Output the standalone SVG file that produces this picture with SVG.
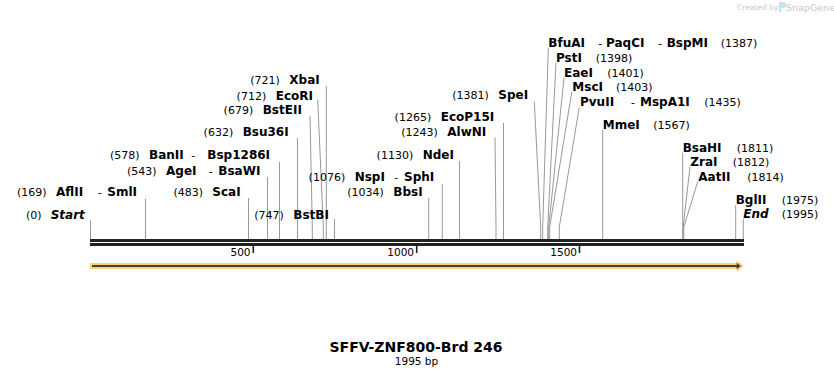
<svg xmlns="http://www.w3.org/2000/svg" width="834" height="378" viewBox="0 0 834 378">
<style>
text{font-family:"DejaVu Sans","Verdana",sans-serif;fill:#000}
.n{font-size:11px}
.e{font-size:11px;text-anchor:end}
.b{font-size:12px;font-weight:bold}
.bi{font-size:12px;font-weight:bold;font-style:italic}
.site{fill:none;stroke:#999;stroke-width:1}
.tick{stroke:#222;stroke-width:1.6}
.tl{font-size:10.5px;text-anchor:end}
</style>
<rect width="834" height="378" fill="#fff"/>
<g id="watermark">
<text x="737" y="10" style="font-size:7.5px;fill:#c8c8c8">Created by</text>
<path d="M779 2 h4 a3 3 0 0 1 0 6 h-2 v4 h-2 z" fill="#bfe3f5"/>
<text x="786" y="11" style="font-size:9.5px;fill:#c8c8c8">SnapGene</text>
</g>
<g id="connectors">
<polyline class="site" points="90.5,220 90.5,239"/>
<polyline class="site" points="145.5,199 145.5,239"/>
<polyline class="site" points="248.5,198 248.5,239"/>
<polyline class="site" points="267.5,177 267.5,239"/>
<polyline class="site" points="279.5,162 279.5,239"/>
<polyline class="site" points="297.5,138 297.5,239"/>
<polyline class="site" points="310,116 312.3,227 312.3,239"/>
<polyline class="site" points="317.7,99.5 323.3,227 323.3,239"/>
<polyline class="site" points="326.3,86 326.3,239"/>
<polyline class="site" points="334.5,219 334.5,239"/>
<polyline class="site" points="428.7,198 428.7,239"/>
<polyline class="site" points="442.3,184 442.3,239"/>
<polyline class="site" points="459.5,161 459.5,239"/>
<polyline class="site" points="495,137.3 496,227 496,239"/>
<polyline class="site" points="503.5,123 503.5,239"/>
<polyline class="site" points="534.3,101.7 540.7,227 540.7,239"/>
<polyline class="site" points="548.3,48.3 542.7,227 542.7,239"/>
<polyline class="site" points="556,62.7 547.7,227 547.7,239"/>
<polyline class="site" points="564,77.7 548.7,227 548.7,239"/>
<polyline class="site" points="571.7,92.3 549.7,227 549.7,239"/>
<polyline class="site" points="579.3,107.3 559.3,227 559.3,239"/>
<polyline class="site" points="602.7,130 602.7,239"/>
<polyline class="site" points="682.7,152.7 682.7,239"/>
<polyline class="site" points="690,166.7 683.2,227 683.2,239"/>
<polyline class="site" points="697.7,181.7 683.8,227 683.8,239"/>
<polyline class="site" points="735.7,205 735.7,239"/>
<polyline class="site" points="743.3,219 743.3,239"/>
</g>
<g id="ruler">
<rect x="90" y="239" width="654" height="3" fill="#222"/>
<rect x="90" y="243" width="654" height="3" fill="#222"/>
<line class="tick" x1="253.3" y1="246" x2="253.3" y2="253"/>
<line class="tick" x1="416.7" y1="246" x2="416.7" y2="253"/>
<line class="tick" x1="579.5" y1="246" x2="579.5" y2="253"/>
<text class="tl" x="250.5" y="256">500</text>
<text class="tl" x="414" y="256">1000</text>
<text class="tl" x="577" y="256">1500</text>
</g>
<g id="feature">
<rect x="90" y="263" width="647" height="6" fill="#fdd27d"/>
<polygon points="736.7,260 743.5,266 736.7,272" fill="#fdd27d"/>
<rect x="92" y="265" width="645" height="2" fill="#4a4034"/>
<polygon points="736.7,262.8 740.8,266 736.7,269.2" fill="#4a4034"/>
</g>
<g id="Start"><text class="e" x="41.5" y="219">(0)</text><text class="bi" x="50.7" y="219">Start</text></g>
<g id="AflII"><text class="e" x="46.5" y="196">(169)</text><text x="56" y="196"><tspan class="b">AflII</tspan><tspan class="n" x="97.7">-</tspan><tspan class="b" x="107.3">SmlI</tspan></text></g>
<g id="ScaI"><text class="e" x="203" y="196">(483)</text><text class="b" x="212.3" y="196">ScaI</text></g>
<g id="AgeI"><text class="e" x="156.5" y="174.7">(543)</text><text x="166" y="174.7"><tspan class="b">AgeI</tspan><tspan class="n" x="208.7">-</tspan><tspan class="b" x="218.3">BsaWI</tspan></text></g>
<g id="BanII"><text class="e" x="139.5" y="159.3">(578)</text><text x="149" y="159.3"><tspan class="b">BanII</tspan><tspan class="n" x="191.3">-</tspan><tspan class="b" x="207.3">Bsp1286I</tspan></text></g>
<g id="BstBI"><text class="e" x="283.8" y="219">(747)</text><text class="b" x="293.3" y="219">BstBI</text></g>
<g id="Bsu36I"><text class="e" x="233.2" y="135.7">(632)</text><text class="b" x="242.7" y="135.7">Bsu36I</text></g>
<g id="BstEII"><text class="e" x="253.2" y="114">(679)</text><text class="b" x="262.7" y="114">BstEII</text></g>
<g id="EcoRI"><text class="e" x="266.2" y="99.7">(712)</text><text class="b" x="275.7" y="99.7">EcoRI</text></g>
<g id="XbaI"><text class="e" x="279.8" y="84">(721)</text><text class="b" x="289.3" y="84">XbaI</text></g>
<g id="NspI"><text class="e" x="345.2" y="180.7">(1076)</text><text x="354.7" y="180.7"><tspan class="b">NspI</tspan><tspan class="n" x="394.3">-</tspan><tspan class="b" x="404">SphI</tspan></text></g>
<g id="BbsI"><text class="e" x="383.8" y="195.7">(1034)</text><text class="b" x="393.3" y="195.7">BbsI</text></g>
<g id="NdeI"><text class="e" x="413.2" y="159">(1130)</text><text class="b" x="422.7" y="159">NdeI</text></g>
<g id="AlwNI"><text class="e" x="437.8" y="136">(1243)</text><text class="b" x="447.3" y="136">AlwNI</text></g>
<g id="EcoP15I"><text class="e" x="431.2" y="120.7">(1265)</text><text class="b" x="440.7" y="120.7">EcoP15I</text></g>
<g id="SpeI"><text class="e" x="488.8" y="99">(1381)</text><text class="b" x="498.3" y="99">SpeI</text></g>
<g id="BfuAI"><text x="548.3" y="46.7"><tspan class="b">BfuAI</tspan><tspan class="n" x="598.3">-</tspan><tspan class="b" x="606">PaqCI</tspan><tspan class="n" x="658.3">-</tspan><tspan class="b" x="666.7">BspMI</tspan><tspan class="n" x="720.7">(1387)</tspan></text></g>
<g id="PstI"><text x="556" y="61.7"><tspan class="b">PstI</tspan><tspan class="n" x="595.7">(1398)</tspan></text></g>
<g id="EaeI"><text x="564" y="76.7"><tspan class="b">EaeI</tspan><tspan class="n" x="607.3">(1401)</tspan></text></g>
<g id="MscI"><text x="572.3" y="91.3"><tspan class="b">MscI</tspan><tspan class="n" x="616">(1403)</tspan></text></g>
<g id="PvuII"><text x="580" y="106"><tspan class="b">PvuII</tspan><tspan class="n" x="631">-</tspan><tspan class="b" x="640">MspA1I</tspan><tspan class="n" x="704.3">(1435)</tspan></text></g>
<g id="MmeI"><text x="602.7" y="129.3"><tspan class="b">MmeI</tspan><tspan class="n" x="653.3">(1567)</tspan></text></g>
<g id="BsaHI"><text x="682.7" y="151.7"><tspan class="b">BsaHI</tspan><tspan class="n" x="736.7">(1811)</tspan></text></g>
<g id="ZraI"><text x="690.3" y="166"><tspan class="b">ZraI</tspan><tspan class="n" x="732.7">(1812)</tspan></text></g>
<g id="AatII"><text x="698.3" y="180.7"><tspan class="b">AatII</tspan><tspan class="n" x="747.3">(1814)</tspan></text></g>
<g id="BglII"><text x="735.7" y="204"><tspan class="b">BglII</tspan><tspan class="n" x="781.7">(1975)</tspan></text></g>
<g id="End"><text x="743.3" y="218.3"><tspan class="bi">End</tspan><tspan class="n" x="781.7">(1995)</tspan></text></g>
<g id="title">
<text x="416" y="352" style="font-size:14px;font-weight:bold;text-anchor:middle">SFFV-ZNF800-Brd 246</text>
<text x="416.5" y="365" style="font-size:10.5px;text-anchor:middle">1995 bp</text>
</g>
</svg>
